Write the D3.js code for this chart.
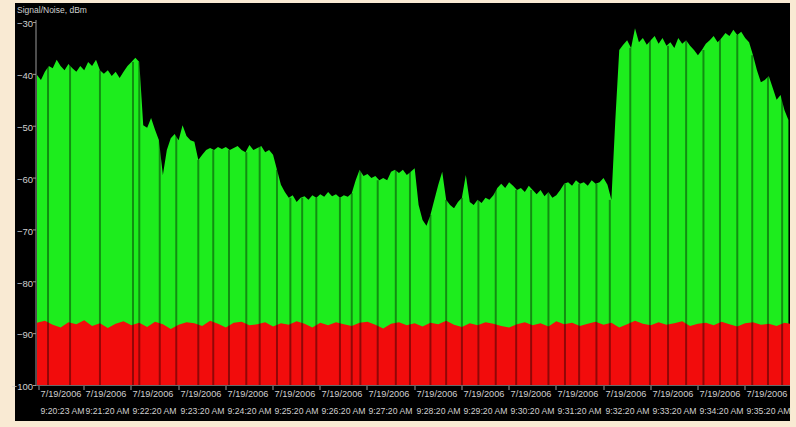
<!DOCTYPE html>
<html>
<head>
<meta charset="utf-8">
<script src="https://cdn.jsdelivr.net/npm/d3@7"></script>
<style>
  html, body { margin: 0; padding: 0; background: #f9ead3; }
  svg { display: block; }
  .lbl { font-family: "Liberation Sans", Arial, sans-serif; fill: #cfcfcf; }
</style>
</head>
<body>
<svg id="chart" width="796" height="427"></svg>
<script>
// Signal and noise levels (dBm) recorded on 7/19/2006, 9:20:20 AM onward.
const startStamp = "7/19/2006 9:20:20 AM";
const endStamp = "7/19/2006 9:36:17 AM";
const signalStepSec = 5;
const noiseStepSec = 10;

const signalDbm = [
  -40.2, -41.2, -39.6, -38.5, -38.9, -37.3, -38.5, -39.3, -38.1, -38.9,
  -39.6, -38.5, -39.3, -37.7, -38.5, -37.3, -39.3, -40.0, -39.3, -40.4,
  -39.6, -40.8, -39.6, -38.5, -37.7, -36.9, -37.7, -49.9, -50.4, -48.5,
  -50.8, -52.8, -59.5, -54.7, -52.4, -51.6, -52.8, -49.9, -52.0, -52.8,
  -53.1, -56.6, -55.6, -54.7, -54.3, -54.7, -54.1, -54.5, -54.1, -54.7,
  -54.3, -53.9, -54.7, -55.1, -53.7, -54.7, -54.3, -53.9, -55.1, -54.7,
  -55.6, -58.5, -61.4, -62.8, -63.9, -63.4, -64.7, -63.9, -63.6, -64.3,
  -63.4, -63.9, -63.2, -63.7, -62.8, -63.6, -63.2, -63.9, -63.4, -63.7,
  -63.0, -60.5, -58.5, -59.7, -59.3, -60.1, -59.7, -60.5, -60.1, -60.5,
  -58.9, -58.5, -59.1, -58.5, -59.5, -58.9, -58.2, -65.3, -68.2, -69.3,
  -67.2, -64.3, -61.4, -58.9, -64.3, -65.3, -65.9, -64.7, -63.9, -59.5,
  -64.7, -65.3, -64.3, -64.9, -63.9, -64.3, -63.4, -62.0, -61.2, -62.0,
  -60.9, -61.6, -62.4, -62.0, -62.8, -61.6, -62.4, -63.2, -62.4, -63.6,
  -62.8, -63.9, -63.4, -62.4, -61.2, -60.9, -61.6, -60.5, -61.2, -60.9,
  -61.6, -60.5, -61.2, -60.9, -60.1, -61.4, -64.3, -48.9, -35.4, -34.4,
  -33.5, -35.0, -31.2, -33.9, -33.1, -34.4, -33.5, -32.7, -34.2, -33.1,
  -34.6, -33.9, -35.0, -33.1, -34.2, -33.5, -34.6, -35.4, -36.4, -35.4,
  -34.2, -33.5, -32.7, -33.9, -33.1, -32.1, -32.7, -31.5, -32.5, -31.9,
  -33.1, -33.9, -36.4, -39.3, -41.6, -41.2, -40.4, -42.7, -45.0, -44.1,
  -47.0, -48.9
];

const noiseDbm = [
  -88.0, -87.6, -88.4, -88.9, -87.9, -88.3, -87.5, -88.6, -88.1, -89.0,
  -88.2, -87.7, -88.5, -88.0, -88.8, -87.8, -88.3, -89.2, -88.4, -87.9,
  -88.1, -88.6, -87.6, -88.2, -88.9, -88.0, -87.8, -88.5, -88.3, -87.9,
  -88.7, -88.1, -88.4, -87.7, -88.2, -88.9, -88.0, -88.5, -87.9, -88.3,
  -88.6, -88.0, -87.8, -88.4, -89.1, -88.2, -87.9, -88.5, -88.1, -88.7,
  -88.0, -88.3, -87.6, -88.4, -88.8, -88.1, -88.5, -87.9, -88.2, -88.6,
  -88.9, -88.3, -87.9, -88.5, -88.1, -88.7, -87.7, -88.3, -88.0, -88.6,
  -88.2, -87.8, -88.4, -88.0, -88.9, -88.3, -87.6, -88.2, -88.5, -87.9,
  -88.4, -88.1, -87.7, -88.6, -88.2, -88.0, -88.5, -87.8, -88.3, -88.7,
  -88.1, -87.9, -88.4, -88.2, -88.6, -88.0, -88.3
];

// Seconds after start where a single reading dropped out.
const dropoutSec = [
  14, 42, 80, 122, 130, 156, 177, 205, 224, 244, 266, 283, 305, 322, 337,
  355, 385, 400, 411, 433, 456, 474, 500, 520, 540, 561, 583, 609, 628, 650,
  671, 689, 711, 728, 754, 779, 802, 825, 847, 868, 890, 909, 929, 947
];

const tickDate = "7/19/2006";
const tickTimes = [
  "9:20:23 AM", "9:21:20 AM", "9:22:20 AM", "9:23:20 AM", "9:24:20 AM",
  "9:25:20 AM", "9:26:20 AM", "9:27:20 AM", "9:28:20 AM", "9:29:20 AM",
  "9:30:20 AM", "9:31:20 AM", "9:32:20 AM", "9:33:20 AM", "9:34:20 AM",
  "9:35:20 AM"
];
const yTicks = [-30, -40, -50, -60, -70, -80, -90, -100];
const yTitle = "Signal/Noise, dBm";

const parse = d3.timeParse("%m/%d/%Y %I:%M:%S %p");
const t0 = parse(startStamp);
const t1 = parse(endStamp);
const at = s => new Date(t0.getTime() + s * 1000);

const svg = d3.select("#chart");
const W = 796, H = 427;
const plot = { left: 37, right: 790, top: 22, bottom: 385 };

svg.append("rect").attr("width", W).attr("height", H).attr("fill", "#f9ead3");
svg.append("rect").attr("x", 15).attr("y", 3).attr("width", 775).attr("height", 418).attr("fill", "#000");

const x = d3.scaleTime().domain([t0, t1]).range([plot.left, plot.right]);
const y = d3.scaleLinear().domain([-100, -30]).range([plot.bottom, plot.top]);

svg.append("defs").append("clipPath").attr("id", "clip")
  .append("rect").attr("x", plot.left).attr("y", plot.top - 4)
  .attr("width", plot.right - plot.left).attr("height", plot.bottom - plot.top + 4);

const g = svg.append("g").attr("clip-path", "url(#clip)");

const sig = signalDbm.map((v, i) => ({ t: at(i * signalStepSec), v }));
const noi = noiseDbm.map((v, i) => ({ t: at(i * noiseStepSec), v }));

// Signal area (green), drawn down to the floor and then covered by the noise area.
g.append("path").datum(sig)
  .attr("fill", "#1ded1d")
  .attr("d", d3.area().x(d => x(d.t)).y0(y(-100)).y1(d => y(d.v)));

// Noise floor (red).
g.append("path").datum(noi)
  .attr("fill", "#f20c0c")
  .attr("d", d3.area().x(d => x(d.t)).y0(y(-100)).y1(d => y(d.v)));

// Dropped readings: thin darker columns through both areas.
const sigAt = s => signalDbm[Math.min(signalDbm.length - 1, Math.round(s / signalStepSec))];
g.selectAll("rect.drop").data(dropoutSec).join("rect")
  .attr("class", "drop")
  .attr("x", s => x(at(s)) - 1)
  .attr("width", 2)
  .attr("y", s => y(sigAt(s)))
  .attr("height", s => y(-100) - y(sigAt(s)))
  .attr("fill", "#000")
  .attr("opacity", 0.4);

// Y axis
const yAxis = d3.axisLeft(y).tickValues(yTicks).tickSize(3).tickFormat(d3.format("d"));
const ya = svg.append("g").attr("transform", `translate(${plot.left - 1},0)`).call(yAxis);
ya.select(".domain").attr("stroke", "#9a9a9a").attr("d", `M0,${plot.top - 2}V${plot.bottom}`);
ya.selectAll(".tick line").attr("stroke", "#9a9a9a");
ya.selectAll(".tick text").attr("class", "lbl").attr("font-size", 9.5).attr("x", -3).attr("dy", "0.5em");

svg.append("text").attr("class", "lbl").attr("x", 17).attr("y", 13)
  .attr("font-size", 8.5).text(yTitle);

// X axis: two-line labels, left aligned at each tick.
const xt = svg.append("g");
const tickData = tickTimes.map(s => ({ t: parse(tickDate + " " + s), time: s }));
const tk = xt.selectAll("g").data(tickData).join("g")
  .attr("transform", d => `translate(${Math.round(x(d.t))},${plot.bottom})`);
tk.append("line").attr("y1", 1).attr("y2", 5).attr("stroke", "#9a9a9a");
tk.append("text").attr("class", "lbl").attr("x", 1.5).attr("y", 12).attr("font-size", 9.5)
  .attr("textLength", 41).attr("lengthAdjust", "spacingAndGlyphs").text(tickDate);
tk.append("text").attr("class", "lbl").attr("x", 1.5).attr("y", 29).attr("font-size", 9.5)
  .attr("textLength", 44).attr("lengthAdjust", "spacingAndGlyphs").text(d => d.time);
svg.append("line").attr("x1", plot.left - 1).attr("x2", plot.right).attr("y1", plot.bottom + 0.5).attr("y2", plot.bottom + 0.5)
  .attr("stroke", "#6a6a6a");
</script>
</body>
</html>
